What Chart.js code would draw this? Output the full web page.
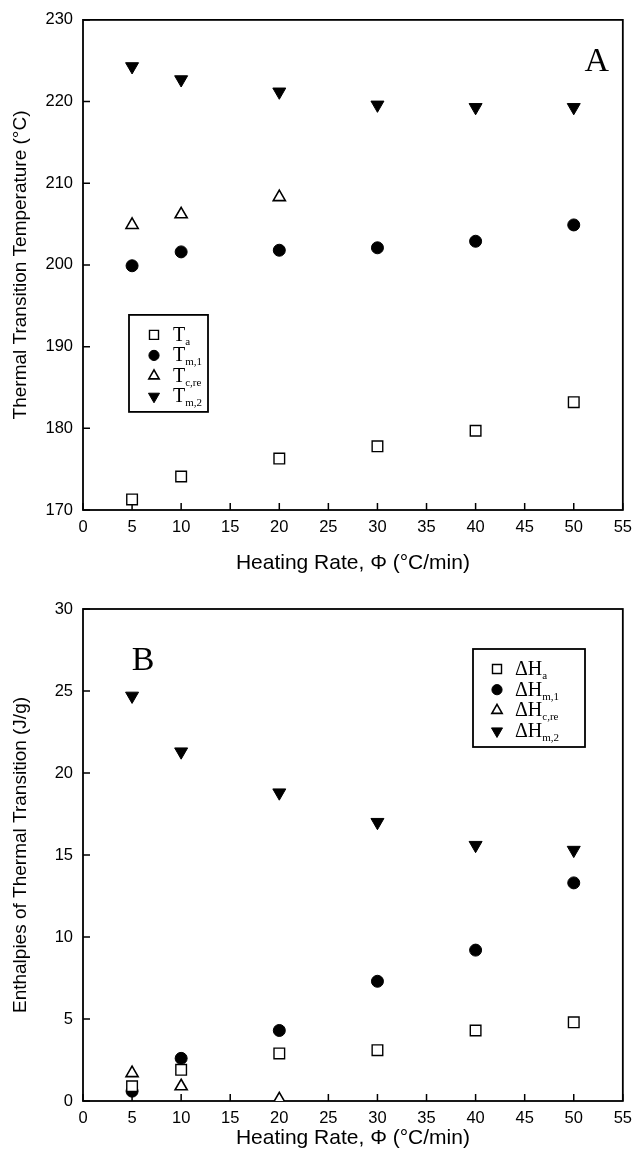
<!DOCTYPE html>
<html>
<head>
<meta charset="utf-8">
<script src="https://cdn.jsdelivr.net/npm/chart.js@4.4.0/dist/chart.umd.min.js"></script>
<style>
  html, body { margin: 0; padding: 0; background: #fff; }
  .wrap { position: relative; width: 640px; }
  #wrapA { height: 580px; }
  #wrapB { height: 579px; }
</style>
</head>
<body>
<div class="wrap" id="wrapA"><canvas id="chartA"></canvas></div>
<div class="wrap" id="wrapB"><canvas id="chartB"></canvas></div>
<script>
// heating rates (°C/min)
const rates = [5, 10, 20, 30, 40, 50];
const ratesCre = [5, 10, 20];

// panel A: transition temperatures (°C)
const tA = [171.3, 174.1, 176.3, 177.8, 179.7, 183.2];
const tM1 = [199.9, 201.6, 201.8, 202.1, 202.9, 204.9];
const tCre = [204.9, 206.2, 208.3];
const tM2 = [224.3, 222.7, 221.2, 219.6, 219.3, 219.3];

// panel B: enthalpies (J/g)
const hA = [0.9, 1.9, 2.9, 3.1, 4.3, 4.8];
const hM1 = [0.6, 2.6, 4.3, 7.3, 9.2, 13.3];
const hCre = [1.7, 0.9, 0.1];
const hM2 = [24.7, 21.3, 18.8, 17.0, 15.6, 15.3];

const xTicks = [0, 5, 10, 15, 20, 25, 30, 35, 40, 45, 50, 55];
const yTicksA = [170, 180, 190, 200, 210, 220, 230];
const yTicksB = [0, 5, 10, 15, 20, 25, 30];

const labelsA = [["T", "a"], ["T", "m,1"], ["T", "c,re"], ["T", "m,2"]];
const labelsB = [["\u0394H", "a"], ["\u0394H", "m,1"], ["\u0394H", "c,re"], ["\u0394H", "m,2"]];

const pts = (xs, ys) => xs.map((x, i) => ({ x: x, y: ys[i] }));

// marker styles, same order as the legend
const marks = [
  { pointStyle: "rect", radius: 7.5, rotation: 0, backgroundColor: "#fff", borderColor: "#000", borderWidth: 1.4 },
  { pointStyle: "circle", radius: 6, rotation: 0, backgroundColor: "#000", borderColor: "#000", borderWidth: 1 },
  { pointStyle: "triangle", radius: 7, rotation: 0, backgroundColor: "#fff", borderColor: "#000", borderWidth: 1.6 },
  { pointStyle: "triangle", radius: 7.5, rotation: 180, backgroundColor: "#000", borderColor: "#000", borderWidth: 1 },
];

function makeSet(data, m) {
  return {
    data: data,
    showLine: false,
    pointStyle: m.pointStyle,
    pointRadius: m.radius,
    pointHoverRadius: m.radius,
    pointRotation: m.rotation,
    pointBackgroundColor: m.backgroundColor,
    pointBorderColor: m.borderColor,
    pointBorderWidth: m.borderWidth,
  };
}

function drawMarker(ctx, m, x, y, r) {
  if (m.pointStyle === "rect") {
    const s = Math.SQRT1_2 * r;
    ctx.rect(x - s, y - s, 2 * s, 2 * s);
  } else if (m.pointStyle === "circle") {
    ctx.arc(x, y, r, 0, Math.PI * 2);
  } else {
    let rad = m.rotation * Math.PI / 180;
    ctx.moveTo(x + Math.sin(rad) * r, y - Math.cos(rad) * r);
    for (let k = 0; k < 2; k++) {
      rad += 2 * Math.PI / 3;
      ctx.lineTo(x + Math.sin(rad) * r, y - Math.cos(rad) * r);
    }
    ctx.closePath();
  }
}

// frame round the plot, inner tick marks, legend box and panel letter
const framePlugin = {
  id: "frame",
  beforeDatasetsDraw(chart, args, opts) {
    const ctx = chart.ctx;
    const a = chart.chartArea;
    const xs = chart.scales.x;
    const ys = chart.scales.y;
    ctx.save();
    ctx.strokeStyle = "#000";
    ctx.lineWidth = 1.8;
    ctx.strokeRect(a.left, a.top, a.right - a.left, a.bottom - a.top);
    ctx.lineWidth = 1.5;
    ctx.beginPath();
    xTicks.forEach((v) => {
      const px = xs.getPixelForValue(v);
      ctx.moveTo(px, a.bottom);
      ctx.lineTo(px, a.bottom - 7);
    });
    opts.yTicks.forEach((v) => {
      const py = ys.getPixelForValue(v);
      ctx.moveTo(a.left, py);
      ctx.lineTo(a.left + 7, py);
    });
    ctx.stroke();
    ctx.restore();
  },
  afterDraw(chart, args, opts) {
    const ctx = chart.ctx;
    const a = chart.chartArea;
    const lg = opts.legend;
    ctx.save();
    const bx = a.left + lg.dx;
    const by = a.top + lg.dy;
    ctx.fillStyle = "#fff";
    ctx.fillRect(bx, by, lg.w, lg.h);
    ctx.strokeStyle = "#000";
    ctx.lineWidth = 1.8;
    ctx.strokeRect(bx, by, lg.w, lg.h);
    opts.labels.forEach((lab, i) => {
      const m = marks[i];
      const cy = by + lg.first + i * lg.step;
      ctx.fillStyle = m.backgroundColor;
      ctx.strokeStyle = m.borderColor;
      ctx.lineWidth = m.borderWidth;
      ctx.beginPath();
      drawMarker(ctx, m, bx + lg.mx, cy, m.radius * 0.85);
      ctx.fill();
      ctx.stroke();
      ctx.fillStyle = "#000";
      ctx.textBaseline = "alphabetic";
      ctx.textAlign = "left";
      ctx.font = '20px "Liberation Serif"';
      const tx = bx + lg.tx;
      ctx.fillText(lab[0], tx, cy + 6);
      const w = ctx.measureText(lab[0]).width;
      ctx.font = '11px "Liberation Serif"';
      ctx.fillText(lab[1], tx + w, cy + 10);
    });
    ctx.fillStyle = "#000";
    ctx.font = '34px "Liberation Serif"';
    ctx.textAlign = "center";
    ctx.textBaseline = "middle";
    const L = opts.letter;
    ctx.fillText(L.text, L.fromRight ? a.right - L.dx : a.left + L.dx, a.top + L.dy);
    ctx.restore();
  },
};

function makeChart(id, sets, yMin, yMax, yTicks, yTitle, padTop, xHeight, padBottom, labels, legend, letter) {
  return new Chart(document.getElementById(id), {
    type: "scatter",
    data: { datasets: sets },
    options: {
      responsive: true,
      maintainAspectRatio: false,
      animation: false,
      events: [],
      layout: { padding: { top: padTop, right: 11, bottom: padBottom, left: 0 } },
      plugins: {
        legend: { display: false },
        tooltip: { enabled: false },
        frame: { yTicks: yTicks, labels: labels, legend: legend, letter: letter },
      },
      scales: {
        x: {
          type: "linear",
          min: 0,
          max: 55,
          afterFit: (s) => { s.height = xHeight; },
          afterBuildTicks: (s) => { s.ticks = xTicks.map((v) => ({ value: v })); },
          grid: { display: false, drawTicks: false },
          border: { display: false },
          ticks: { color: "#000", padding: 8, maxRotation: 0, font: { family: "Liberation Sans", size: 16.5 } },
          title: {
            display: true,
            text: "Heating Rate, \u03A6 (\u00B0C/min)",
            color: "#000",
            font: { family: "Liberation Sans", size: 21 },
            padding: { top: 4, bottom: 4 },
          },
        },
        y: {
          type: "linear",
          min: yMin,
          max: yMax,
          afterFit: (s) => { s.width = 83; },
          afterBuildTicks: (s) => { s.ticks = yTicks.map((v) => ({ value: v })); },
          grid: { display: false, drawTicks: false },
          border: { display: false },
          ticks: { color: "#000", padding: 10, font: { family: "Liberation Sans", size: 16.5 } },
          title: {
            display: true,
            text: yTitle,
            color: "#000",
            font: { family: "Liberation Sans", size: 19 },
            padding: { top: 9, bottom: 4 },
          },
        },
      },
    },
    plugins: [framePlugin],
  });
}

makeChart(
  "chartA",
  [
    makeSet(pts(rates, tA), marks[0]),
    makeSet(pts(rates, tM1), marks[1]),
    makeSet(pts(ratesCre, tCre), marks[2]),
    makeSet(pts(rates, tM2), marks[3]),
  ],
  170, 230, yTicksA,
  "Thermal Transition Temperature (\u00B0C)",
  18, 70, 0,
  labelsA,
  { dx: 46, dy: 295, w: 79, h: 97, first: 20, step: 20.5, mx: 25, tx: 44 },
  { text: "A", fromRight: true, dx: 26, dy: 42 }
);

makeChart(
  "chartB",
  [
    makeSet(pts(rates, hA), marks[0]),
    makeSet(pts(rates, hM1), marks[1]),
    makeSet(pts(ratesCre, hCre), marks[2]),
    makeSet(pts(rates, hM2), marks[3]),
  ],
  0, 30, yTicksB,
  "Enthalpies of Thermal Transition (J/g)",
  29, 54, 4,
  labelsB,
  { dx: 390, dy: 40, w: 112, h: 98, first: 20, step: 20.7, mx: 24, tx: 42 },
  { text: "B", fromRight: false, dx: 60, dy: 52 }
);
</script>
</body>
</html>
